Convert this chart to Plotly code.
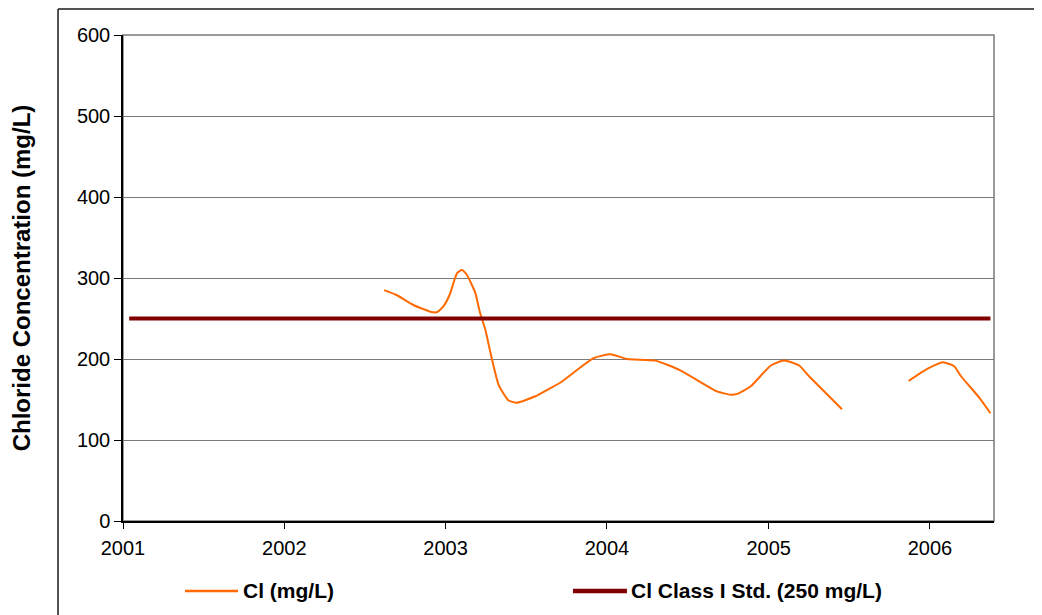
#!/usr/bin/env python3
"""Chloride concentration over time against the Class I standard (250 mg/L)."""
import plotly.graph_objects as go

# Cl samples (mg/L); None marks the gap in sampling during 2005
CL_DATES = [
    "2002-08-15", "2002-09-12", "2002-10-19", "2002-11-30", "2002-12-13",
    "2002-12-27", "2003-01-10", "2003-01-27", "2003-02-07", "2003-02-18",
    "2003-03-09", "2003-03-20", "2003-04-01", "2003-04-12", "2003-05-01",
    "2003-05-23", "2003-06-11", "2003-07-23", "2003-08-26", "2003-09-18",
    "2003-12-02", "2004-01-09", "2004-02-16", "2004-04-20", "2004-06-15",
    "2004-09-06", "2004-10-07", "2004-10-22", "2004-11-21", "2005-01-06",
    "2005-02-05", "2005-03-11", "2005-04-02", "2005-06-16", "2005-09-01",
    "2005-11-14", "2005-12-27", "2006-01-30", "2006-02-25", "2006-03-12",
    "2006-04-23", "2006-05-18",
]
CL_VALUES = [
    285, 279, 267, 258, 258,
    265, 279, 306, 310, 304,
    282, 257, 236, 209, 168,
    149, 146, 154, 164, 171,
    201, 206, 200, 198, 186,
    160, 156, 157, 166, 192,
    198, 192, 179, 138, None,
    173, 188, 196, 191, 179,
    152, 133,
]

# Class I standard line
STD_DATES = ["2001-01-15", "2001-04-20", "2006-05-18"]
STD_VALUES = [250, 250, 250]

Y_TICKS = [0, 100, 200, 300, 400, 500, 600]

CL_NAME = "Cl (mg/L)"
STD_NAME = "Cl Class I Std. (250 mg/L)"
CL_COLOR = "#ff6a00"
STD_COLOR = "#800000"

FONT = "Liberation Sans, Arial, sans-serif"
GRID = "#7a7a7a"
FRAME = "#1a1a1a"
LEG_Y = -0.144

fig = go.Figure()
fig.add_trace(go.Scatter(
    x=CL_DATES, y=CL_VALUES, mode="lines", name=CL_NAME,
    line=dict(color=CL_COLOR, width=2, shape="spline", smoothing=0.5),
))
fig.add_trace(go.Scatter(
    x=STD_DATES, y=STD_VALUES, mode="lines", name=STD_NAME,
    line=dict(color=STD_COLOR, width=4),
))

# legend drawn by hand, Excel-style long line samples
legend_shapes = [
    dict(type="line", xref="paper", yref="paper", x0=0.0712, x1=0.132,
         y0=LEG_Y, y1=LEG_Y, line=dict(color=CL_COLOR, width=2.5)),
    dict(type="line", xref="paper", yref="paper", x0=0.5166, x1=0.5786,
         y0=LEG_Y, y1=LEG_Y, line=dict(color=STD_COLOR, width=4.5)),
]
legend_text = [
    dict(text=f"<b>{CL_NAME}</b>", x=0.136, y=LEG_Y),
    dict(text=f"<b>{STD_NAME}</b>", x=0.581, y=LEG_Y),
]
for a in legend_text:
    a.update(xref="paper", yref="paper", xanchor="left", yanchor="middle",
             showarrow=False, font=dict(size=21, family=FONT, color="black"))

# outer chart frame: only its top and left edges fall inside the picture
frame_shapes = [
    dict(type="line", xref="paper", yref="paper", x0=-0.0746, x1=1.1,
         y0=1.0535, y1=1.0535, line=dict(color=FRAME, width=1.5)),
    dict(type="line", xref="paper", yref="paper", x0=-0.0746, x1=-0.0746,
         y0=1.0535, y1=-0.3, line=dict(color=FRAME, width=1.5)),
]

fig.update_layout(
    width=1034, height=607,
    paper_bgcolor="white", plot_bgcolor="white",
    font=dict(family=FONT, size=20, color="black"),
    margin=dict(l=115, r=48, t=27, b=94),
    showlegend=False,
    annotations=legend_text,
    shapes=[
        # plot area border
        dict(type="rect", xref="paper", yref="paper", x0=0, x1=1, y0=0, y1=1,
             line=dict(color=GRID, width=1.5), layer="below"),
    ] + frame_shapes + legend_shapes,
)
fig.update_xaxes(
    type="date", range=["2001-01-01", "2006-05-26"],
    tickformat="%Y", dtick="M12", tick0="2001-01-01",
    ticks="outside", ticklen=6, tickcolor="black",
    showline=True, linecolor="black", linewidth=1.5,
    showgrid=False, zeroline=False,
    tickfont=dict(size=20), ticklabelstandoff=2,
)
fig.update_yaxes(
    range=[0, 600], tickvals=Y_TICKS,
    ticks="outside", ticklen=7, tickcolor="black",
    showline=True, linecolor="black", linewidth=1.5,
    showgrid=True, gridcolor=GRID, gridwidth=1, zeroline=False,
    tickfont=dict(size=20),
    title=dict(text="<b>Chloride Concentration (mg/L)</b>", standoff=40,
               font=dict(size=24)),
)

fig.write_html("out.html", config={"displayModeBar": False})
